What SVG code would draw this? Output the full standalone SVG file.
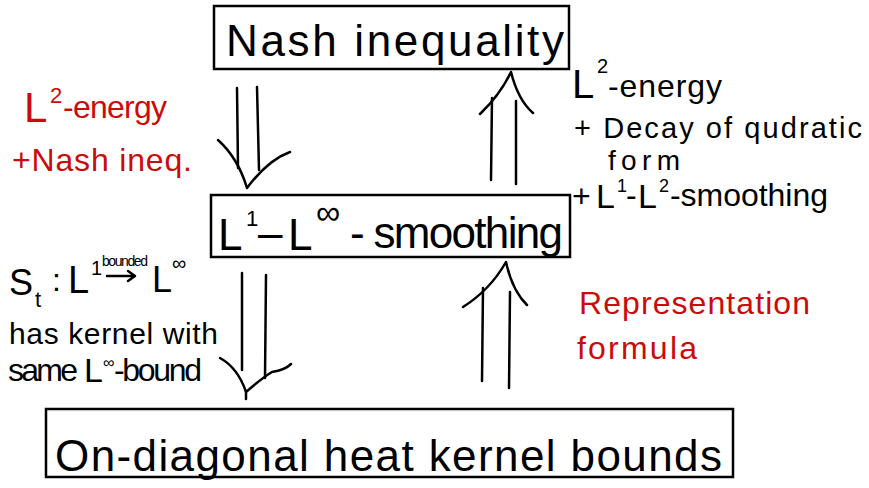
<svg xmlns="http://www.w3.org/2000/svg" width="869" height="488" viewBox="0 0 869 488">
<style>
.box{fill:none;stroke:#000;stroke-width:2.5}
.ln{fill:none;stroke:#000;stroke-width:2.5;stroke-linecap:round;stroke-linejoin:round}
text{font-family:"Liberation Sans","DejaVu Sans",sans-serif;fill:#000}
.red{fill:#cc0a0a}
.big{font-size:44px}
.mid{font-size:32px}
</style>
<rect width="869" height="488" fill="#fff"/>
<g id="node-nash">
<rect class="box" x="214" y="6" width="355" height="63"/>
<text class="big" x="226" y="56" textLength="338" lengthAdjust="spacing">Nash inequality</text>
</g>
<g id="node-smoothing">
<rect class="box" x="211" y="195" width="359" height="62"/>
<text class="big" x="218" y="250">L</text>
<text x="246" y="226" font-size="22">1</text>
<text class="big" x="258" y="248">–</text>
<text class="big" x="288" y="250">L</text>
<text x="316" y="224" font-size="34">∞</text>
<text class="big" x="350" y="248" textLength="213" lengthAdjust="spacing">- smoothing</text>
</g>
<g id="node-heat">
<rect class="box" x="46" y="409" width="687" height="68"/>
<text class="big" x="55" y="471" textLength="667" lengthAdjust="spacing">On-diagonal heat kernel bounds</text>
</g>
<g id="connectors">
<path class="ln" d="M237 88 L238 168 M257 87 L259 170"/>
<path class="ln" d="M218 140 Q238 158 247 188 Q268 160 290 152"/>
<path class="ln" d="M492 98 L491 180 M516 101 L516 184"/>
<path class="ln" d="M480 114 Q500 95 511 72 Q518 100 533 113"/>
<path class="ln" d="M242 273 L242 370 M266 275 L265 378"/>
<path class="ln" d="M220 358 Q238 368 246 392 L246 399 M246 392 Q262 378 272 372 Q285 370 291 364"/>
<path class="ln" d="M483 288 L482 381 M510 292 L509 388"/>
<path class="ln" d="M463 307 Q490 290 506 262 Q512 290 527 305"/>
</g>
<g id="label-left-red">
<text class="red" x="24" y="122" font-size="42">L</text>
<text class="red" x="50" y="103" font-size="22">2</text>
<text class="red mid" x="63" y="118" textLength="104" lengthAdjust="spacing">-energy</text>
<text class="red mid" x="12" y="171" textLength="180" lengthAdjust="spacing">+Nash ineq.</text>
</g>
<g id="label-right-top">
<text x="572" y="98" font-size="40">L</text>
<text x="597" y="73" font-size="20">2</text>
<text class="mid" x="608" y="97" textLength="114" lengthAdjust="spacing">-energy</text>
<text x="574" y="138" font-size="29" textLength="288" lengthAdjust="spacing">+ Decay of qudratic</text>
<text x="608" y="170" font-size="28" textLength="72" lengthAdjust="spacing">form</text>
<text class="mid" x="572" y="207">+</text>
<text x="596" y="208" font-size="34">L</text>
<text x="617" y="192" font-size="18">1</text>
<text class="mid" x="626" y="206">-</text>
<text x="638" y="208" font-size="34">L</text>
<text x="659" y="192" font-size="18">2</text>
<text class="mid" x="670" y="206" textLength="158" lengthAdjust="spacing">-smoothing</text>
</g>
<g id="label-left-bottom">
<text x="9" y="295" font-size="36">S</text>
<text x="35" y="307" font-size="22">t</text>
<text class="mid" x="52" y="291">:</text>
<text x="68" y="293" font-size="38">L</text>
<text x="91" y="275" font-size="20">1</text>
<text x="102" y="266" font-size="14" textLength="46" lengthAdjust="spacing">bounded</text>
<path class="ln" d="M107 276 L134 276 M128 271 L135 276 L128 281" stroke-width="2"/>
<text x="152" y="292" font-size="36">L</text>
<text x="172" y="270" font-size="20">∞</text>
<text x="9" y="344" font-size="30" textLength="209" lengthAdjust="spacing">has kernel with</text>
<text class="mid" x="8" y="381" textLength="70" lengthAdjust="spacing">same</text>
<text x="84" y="382" font-size="34">L</text>
<text x="103" y="368" font-size="16">∞</text>
<text class="mid" x="114" y="381" textLength="88" lengthAdjust="spacing">-bound</text>
</g>
<g id="label-right-red">
<text class="red mid" x="579" y="314" textLength="231" lengthAdjust="spacing">Representation</text>
<text class="red mid" x="577" y="359" textLength="120" lengthAdjust="spacing">formula</text>
</g>
</svg>
